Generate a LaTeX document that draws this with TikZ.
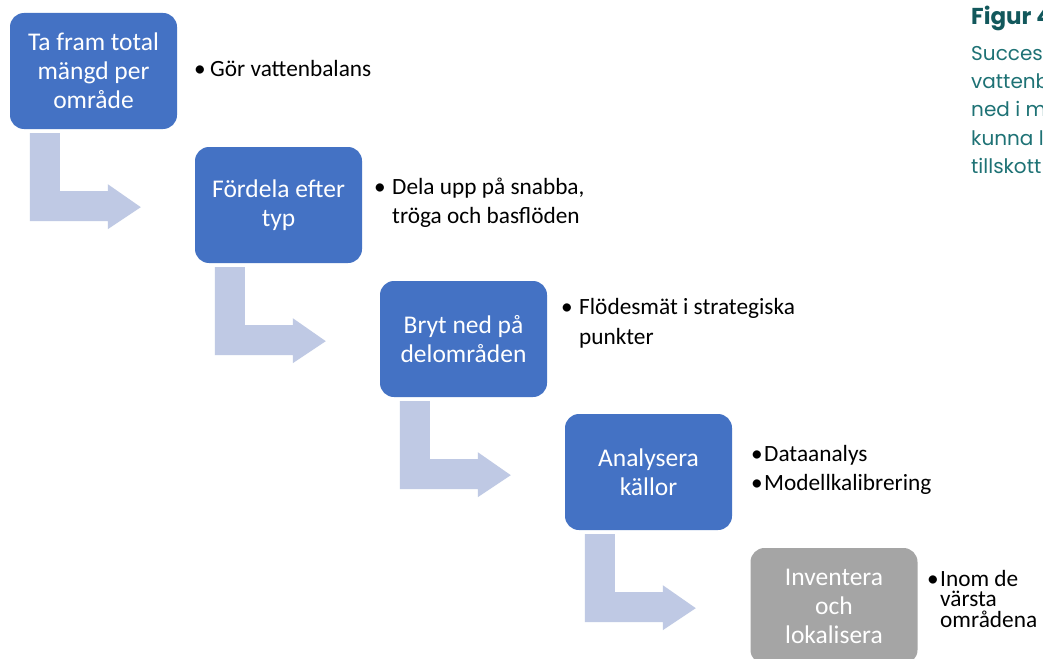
\documentclass[tikz,border=0pt]{standalone}
\usepackage{fontspec}
\setmainfont{Carlito}
\newfontfamily\figfont{Poppins}
\definecolor{boxblue}{HTML}{4472C4}
\definecolor{boxgray}{HTML}{A5A5A5}
\definecolor{arrowblue}{HTML}{BFC9E4}
\definecolor{figteal}{HTML}{12585C}
\definecolor{bodyteal}{HTML}{1E7275}
\tikzset{
  stepbox/.style={rectangle, rounded corners=14pt, fill=boxblue, text=white,
    minimum width=167pt, minimum height=116pt, inner sep=0pt, align=center,
    font=\fontsize{25.5}{29}\selectfont},
  graybox/.style={stepbox, fill=boxgray},
  sidetxt/.style={anchor=base west, inner sep=0pt, font=\fontsize{23.3}{26}\selectfont},
  figtxt/.style={anchor=base west, inner sep=0pt, text=bodyteal, font=\figfont\fontsize{20}{24}\selectfont},
  bentarrow/.style={fill=arrowblue, draw=none}
}
\begin{document}
\begin{tikzpicture}[x=1pt,y=-1pt]
\clip (0,0) rectangle (1043,658);
\fill[white] (0,0) rectangle (1043,658);
% boxes
\node[stepbox] (b1) at (93.5,71) {Ta fram total\\mängd per\\område};
\node[stepbox] (b2) at (278.5,205) {Fördela efter\\typ};
\node[stepbox] (b3) at (463.5,339) {Bryt ned på\\delområden};
\node[stepbox] (b4) at (648.5,472) {Analysera\\källor};
\node[graybox] (b5) at (834,606) {Inventera\\och\\lokalisera};
% bent arrows
\foreach \b in {b1,b2,b3,b4}{
  \fill[bentarrow, shift={(\b.south west)}]
    (20,4) -- (50,4) -- (50,62) -- (98,62) -- (98,55) -- (131,78)
    -- (98,100) -- (98,92) -- (20,92) -- cycle;
}
% side texts
\node[sidetxt] (s1b) at (194,77) {•};
\node[sidetxt] (s1a) at (210,77) {Gör vattenbalans};
\node[sidetxt] (s2b) at (374,194) {•};
\node[sidetxt] (s2a) at (392,194) {Dela upp på snabba,};
\node[sidetxt] (s2c) at (392,223) {tröga och basflöden};
\node[sidetxt] (s3b) at (561,314) {•};
\node[sidetxt] (s3a) at (579,314) {Flödesmät i strategiska};
\node[sidetxt] (s3c) at (579,344) {punkter};
\node[sidetxt] (s4b) at (751,461) {•};
\node[sidetxt] (s4a) at (764,461) {Dataanalys};
\node[sidetxt] (s4c) at (751,490) {•};
\node[sidetxt] (s4d) at (764,490) {Modellkalibrering};
\node[sidetxt] (s5b) at (927,586) {•};
\node[sidetxt] (s5a) at (940,586) {Inom de};
\node[sidetxt] (s5c) at (940,606) {värsta};
\node[sidetxt] (s5d) at (940,627) {områdena};
% figure caption (cut at right edge)
\node[anchor=base west, inner sep=0pt, text=figteal, font=\figfont\bfseries\fontsize{23}{26}\selectfont] (fig) at (971,25) {Figur 4};
\node[figtxt] (f1) at (971,61) {Succes};
\node[figtxt] (f2) at (971,89) {vattenb};
\node[figtxt] (f3) at (971,117) {ned i m};
\node[figtxt] (f4) at (971,145) {kunna l};
\node[figtxt] (f5) at (971,173) {tillskott};
\end{tikzpicture}
\end{document}
